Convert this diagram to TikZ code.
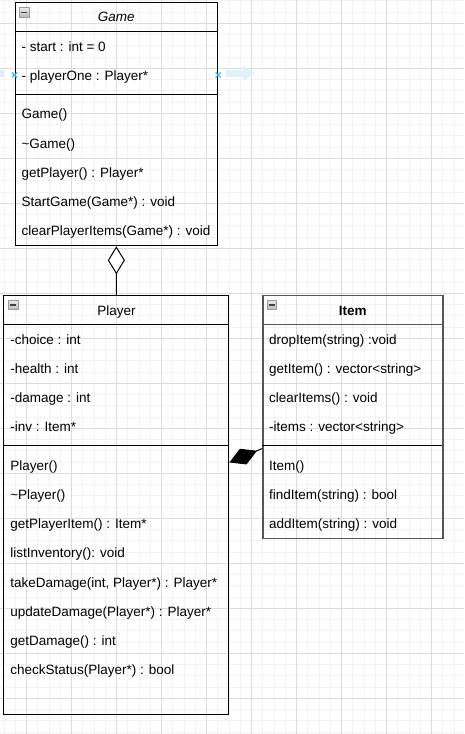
\documentclass[tikz,border=0pt]{standalone}
\usepackage{fontspec}
\setmainfont{Liberation Sans}
\usetikzlibrary{arrows.meta,positioning,calc}
\definecolor{gridmajor}{RGB}{220,220,220}
\definecolor{gridminor}{RGB}{243,243,243}
\definecolor{hoverblue}{RGB}{41,182,242}
\definecolor{hoverfade}{RGB}{222,242,252}
\definecolor{itemgray}{RGB}{85,85,85}
\newcommand{\umlfont}{\fontsize{13.5pt}{16pt}\selectfont}
\tikzset{classbox/.style={rectangle, draw=black, line width=1pt, anchor=north west, inner sep=0pt},
  member/.style={anchor=base west, inner sep=0pt, font=\umlfont},
  title/.style={anchor=base, inner sep=0pt, font=\umlfont},
  foldicon/.style={rectangle, anchor=north west, minimum size=9.4pt, inner sep=0pt, draw=gray!80, top color=gray!15, bottom color=gray!55},
  hovermark/.style={hoverblue, line width=1.2pt}}

\begin{document}
\begin{tikzpicture}[x=1pt,y=-1pt]
\useasboundingbox (0,0) rectangle (464,734);
% background grid
\foreach \i in {0,...,40}
  \draw[gridminor,line width=0.8pt] (4+\i*11.25,0) -- (4+\i*11.25,734);
\foreach \j in {0,...,65}
  \draw[gridminor,line width=0.8pt] (0,0.8+\j*11.25) -- (464,0.8+\j*11.25);
\foreach \i in {0,...,9}
  \draw[gridmajor,line width=0.8pt] (26.5+\i*45,0) -- (26.5+\i*45,734);
\foreach \j in {0,...,16}
  \draw[gridmajor,line width=0.8pt] (0,23.3+\j*45) -- (464,23.3+\j*45);

% Game
\node[classbox, minimum width=202.5pt, minimum height=243pt] (game) at (14.6,2.3) {};
\draw[line width=1pt] ($(game.north west)+(0,29.25)$) -- ++(202.5,0);
\draw[line width=1pt] ($(game.north west)+(0,92.25)$) -- ++(202.5,0);
\node[title, font=\umlfont\itshape] (gameTitle) at ($(game.north)+(0,19.5)$) {Game};
\node[foldicon] (gameFold) at ($(game.north west)+(4.7,5)$) {};
\draw[black!75, line width=1.3pt] ($(gameFold.west)+(2,0)$) -- ($(gameFold.east)+(-2,0)$);
\foreach \t [count=\i] in {- start : int = 0, - playerOne : Player*}
  \node[member] at ($(game.north west)+(6.75,{19.75+29.25*\i})$) {\t};
\foreach \t [count=\i] in {Game(), \textasciitilde Game(), getPlayer() : Player*, StartGame(Game*) : void, clearPlayerItems(Game*) : void}
  \node[member] at ($(game.north west)+(6.75,{87.25+29.25*\i})$) {\t};

% hover markers
\coordinate (hoverL) at ($(game.north west)+(0,72.7)$);
\coordinate (hoverR) at ($(game.north east)+(0,72.7)$);
\fill[hoverfade] (0,70) rectangle (4,77);
\fill[hoverfade] (226,70) -- (243,70) -- (243,66) -- (255,73.5) -- (243,81) -- (243,77) -- (226,77) -- cycle;
\foreach \p in {hoverL,hoverR}
  \draw[hovermark] ($(\p)+(-2.5,-2.5)$) -- ++(5,5) ($(\p)+(-2.5,2.5)$) -- ++(5,-5);

% Player
\node[classbox, minimum width=225pt, minimum height=418.5pt] (player) at (3.4,295) {};
\draw[line width=1pt] ($(player.north west)+(0,29.25)$) -- ++(225,0);
\draw[line width=1pt] ($(player.north west)+(0,150.75)$) -- ++(225,0);
\node[title] (playerTitle) at ($(player.north)+(0,20)$) {Player};
\node[foldicon] (playerFold) at ($(player.north west)+(4.7,5)$) {};
\draw[black!75, line width=1.3pt] ($(playerFold.west)+(2,0)$) -- ($(playerFold.east)+(-2,0)$);
\foreach \t [count=\i] in {-choice : int, -health : int, -damage : int, -inv : Item*}
  \node[member] at ($(player.north west)+(6.75,{19.75+29.25*\i})$) {\t};
\foreach \t [count=\i] in {Player(), \textasciitilde Player(), getPlayerItem() : Item*, listInventory(): void, {takeDamage(int, Player*) : Player*}, updateDamage(Player*) : Player*, getDamage() : int, checkStatus(Player*) : bool}
  \node[member] at ($(player.north west)+(6.75,{145.75+29.25*\i})$) {\t};

% Item
\node[classbox, draw=itemgray, line width=1.3pt, minimum width=180pt, minimum height=243pt] (item) at (262.2,295) {};
\draw[itemgray, line width=1.2pt] ($(item.north west)+(0,29.25)$) -- ++(180,0);
\draw[black, line width=1pt] ($(item.north west)+(0,150.75)$) -- ++(180,0);
\node[title, font=\umlfont\bfseries] (itemTitle) at ($(item.north)+(0,20)$) {Item};
\node[foldicon] (itemFold) at ($(item.north west)+(4.7,5)$) {};
\draw[black!75, line width=1.3pt] ($(itemFold.west)+(2,0)$) -- ($(itemFold.east)+(-2,0)$);
\foreach \t [count=\i] in {dropItem(string) :void, getItem() : vector<string>, clearItems() : void, -items : vector<string>}
  \node[member] at ($(item.north west)+(6.75,{19.75+29.25*\i})$) {\t};
\foreach \t [count=\i] in {Item(), findItem(string) : bool, addItem(string) : void}
  \node[member] at ($(item.north west)+(6.75,{145.75+29.25*\i})$) {\t};

% relations
\draw[line width=1pt, -{Diamond[length=28pt,width=17pt,fill=white]}] (player.north) -- (game.south);
\coordinate (compA) at ($(item.north west)+(0,153.5)$);
\coordinate (compB) at ($(player.north east)+(0,167.5)$);
\draw[line width=1pt, -{Diamond[length=30pt,width=17pt]}] (compA) -- (compB);
\end{tikzpicture}
\end{document}
